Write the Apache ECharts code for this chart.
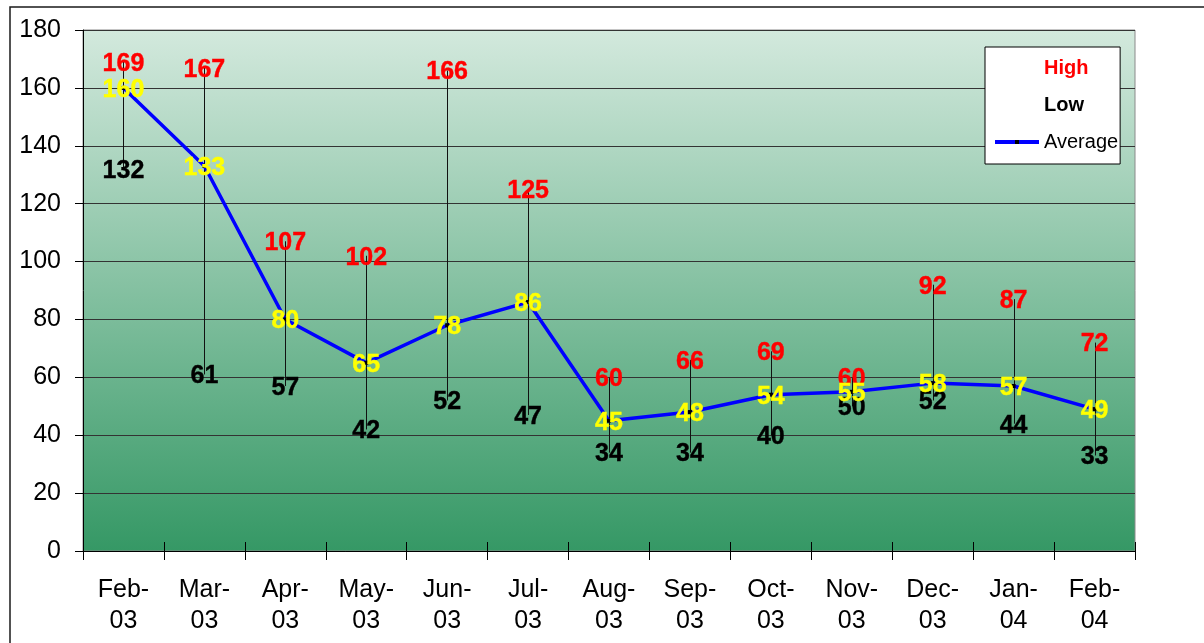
<!DOCTYPE html>
<html>
<head>
<meta charset="utf-8">
<script src="https://cdn.jsdelivr.net/npm/echarts@6/dist/echarts.min.js"></script>
<style>
html,body{margin:0;padding:0;background:#fff;}
#chart{width:1204px;height:643px;}
</style>
</head>
<body>
<div id="chart"></div>
<script>
const categories = ['Feb-03','Mar-03','Apr-03','May-03','Jun-03','Jul-03','Aug-03','Sep-03','Oct-03','Nov-03','Dec-03','Jan-04','Feb-04'];
const highValues = [169,167,107,102,166,125,60,66,69,60,92,87,72];
const lowValues  = [132,61,57,42,52,47,34,34,40,50,52,44,33];
const avgValues  = [160,133,80,65,78,86,45,48,54,55,58,57,49];
const yMin = 0, yMax = 180, yStep = 20;

const FONT = "'Liberation Sans', Arial, sans-serif";
const chart = echarts.init(document.getElementById('chart'), null, {renderer:'canvas'});

const hiloData = categories.map((c, i) => [i, lowValues[i], highValues[i]]);

function dataLabel(color) {
  return {
    show: true, position: 'inside', color: color, offset: [0, 2],
    fontFamily: FONT, fontWeight: 'bold', fontSize: 25,
    textBorderColor: color, textBorderWidth: 0.4
  };
}

const option = {
  animation: false,
  backgroundColor: '#ffffff',
  graphic: [{
    type: 'rect',
    shape: {x: 10, y: 7, width: 1300, height: 700},
    style: {fill: 'none', stroke: '#1a1a1a', lineWidth: 1.5},
    silent: true, z: -10
  }],
  grid: {
    left: 83, top: 30, right: 69, bottom: 92,
    show: true,
    backgroundColor: new echarts.graphic.LinearGradient(0, 0, 0, 1, [
      {offset: 0, color: '#d3e9dd'},
      {offset: 1, color: '#359865'}
    ]),
    borderColor: '#8a8a8a', borderWidth: 1
  },
  legend: {
    orient: 'vertical',
    left: 985, top: 47,
    backgroundColor: '#ffffff',
    borderColor: '#000000', borderWidth: 1,
    padding: [11, 2, 12, 8],
    itemWidth: 44, itemHeight: 5, itemGap: 17,
    textStyle: {fontFamily: FONT, fontSize: 20, color: '#000'},
    data: [
      {name: 'High', textStyle: {color: '#ff0000', fontWeight: 'bold'}},
      {name: 'Low', textStyle: {color: '#000000', fontWeight: 'bold'}},
      {name: 'Average', textStyle: {color: '#000000'}, lineStyle: {width: 4, color: '#0000ff'}}
    ]
  },
  xAxis: [{
    type: 'category',
    data: categories,
    boundaryGap: true,
    axisLine: {lineStyle: {color: '#000', width: 1}},
    axisTick: {show: true, length: 9, lineStyle: {color: '#000'}},
    axisLabel: {
      fontFamily: FONT, fontSize: 25, color: '#000', lineHeight: 31, margin: 24,
      interval: 0,
      formatter: v => v.replace('-', '-\n')
    },
    splitLine: {show: false}
  }, {
    type: 'category',
    data: categories,
    position: 'bottom',
    boundaryGap: true,
    axisLine: {show: false},
    axisTick: {show: true, inside: true, length: 9, lineStyle: {color: '#000'}},
    axisLabel: {show: false},
    splitLine: {show: false}
  }],
  yAxis: {
    type: 'value',
    min: yMin, max: yMax, interval: yStep,
    axisLine: {show: true, lineStyle: {color: '#000', width: 1}},
    axisTick: {show: true, length: 8, lineStyle: {color: '#000'}},
    axisLabel: {fontFamily: FONT, fontSize: 25, color: '#000', margin: 22, padding: [4, 0, 0, 0]},
    splitLine: {show: true, lineStyle: {color: '#333', width: 1}}
  },
  series: [
    {
      name: 'HiLo',
      type: 'custom',
      z: 1,
      data: hiloData,
      encode: {x: 0, y: [1, 2]},
      renderItem: function (params, api) {
        const x = api.value(0);
        const lo = api.coord([x, api.value(1)]);
        const hi = api.coord([x, api.value(2)]);
        const px = Math.round(lo[0]) + 0.5;
        return {
          type: 'line',
          shape: {x1: px, y1: lo[1], x2: px, y2: hi[1]},
          style: {stroke: '#111', lineWidth: 1}
        };
      }
    },
    {
      name: 'Average',
      type: 'line',
      z: 2,
      data: avgValues,
      symbol: 'rect',
      symbolSize: 4,
      showSymbol: true,
      itemStyle: {color: '#000'},
      lineStyle: {color: '#0000ff', width: 3.5},
      label: {show: false}
    },
    {
      name: 'High',
      type: 'scatter',
      z: 3,
      data: highValues,
      symbolSize: 1,
      itemStyle: {color: 'rgba(0,0,0,0)', opacity: 1},
      label: dataLabel('#ff0000')
    },
    {
      name: 'Low',
      type: 'scatter',
      z: 4,
      data: lowValues,
      symbolSize: 1,
      itemStyle: {color: 'rgba(0,0,0,0)', opacity: 1},
      label: dataLabel('#000000')
    },
    {
      name: 'AvgLabels',
      type: 'scatter',
      z: 5,
      data: avgValues,
      symbolSize: 1,
      itemStyle: {color: 'rgba(0,0,0,0)', opacity: 1},
      label: dataLabel('#ffff00')
    }
  ]
};
chart.setOption(option);
</script>
</body>
</html>
